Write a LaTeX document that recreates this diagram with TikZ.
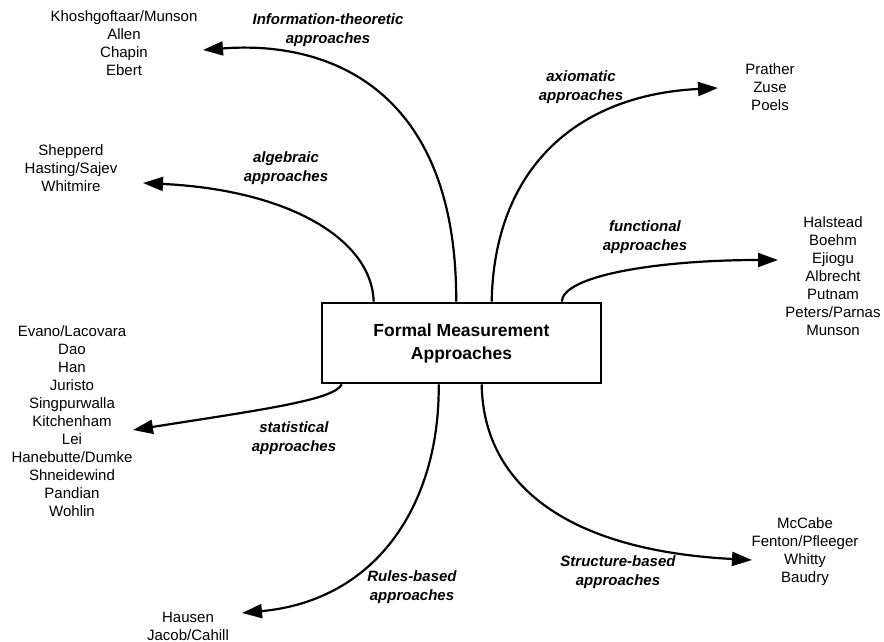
\documentclass[tikz,border=0pt]{standalone}
\usepackage{fontspec}
\setmainfont{Liberation Sans}
\usetikzlibrary{arrows.meta}
\begin{document}
\begin{tikzpicture}[x=1pt,y=-1pt,
  names/.style={align=center,inner sep=0pt,font=\fontsize{15}{18}\selectfont},
  kind/.style={align=center,inner sep=0pt,font=\fontsize{15}{18.5}\selectfont\bfseries\itshape},
  center box/.style={draw,line width=2.6pt,minimum width=279pt,minimum height=80pt,inner sep=0pt,
    align=center,font=\fontsize{17.5}{23}\selectfont\bfseries},
  link/.style={line width=2.2pt,-{Triangle[length=20pt,width=14pt]}}]
\useasboundingbox (0,0) rectangle (884,642);

% central box
\node[center box] (fma) at (461.5,343) {Formal Measurement\\Approaches};

% groups of authors
\node[names] (info)   at (124,43)  {Khoshgoftaar/Munson\\Allen\\Chapin\\Ebert};
\node[names] (alg)    at (71,168)  {Shepperd\\Hasting/Sajev\\Whitmire};
\node[names] (axio)   at (770,87)  {Prather\\Zuse\\Poels};
\node[names] (func)   at (833,276) {Halstead\\Boehm\\Ejiogu\\Albrecht\\Putnam\\Peters/Parnas\\Munson};
\node[names] (stat)   at (72,421)  {Evano/Lacovara\\Dao\\Han\\Juristo\\Singpurwalla\\Kitchenham\\Lei\\Hanebutte/Dumke\\Shneidewind\\Pandian\\Wohlin};
\node[names] (rules)  at (188,626) {Hausen\\Jacob/Cahill};
\node[names] (struct) at (805,552) {McCabe\\Fenton/Pfleeger\\Whitty\\Baudry};

% approach labels
\node[kind] (linfo)   at (328,30)  {Information-theoretic\\approaches};
\node[kind] (lalg)    at (286,168) {algebraic\\approaches};
\node[kind] (laxio)   at (581,87)  {axiomatic\\approaches};
\node[kind] (lfunc)   at (645,237) {functional\\approaches};
\node[kind] (lstat)   at (294,438) {statistical\\approaches};
\node[kind] (lrules)  at (412,587) {Rules-based\\approaches};
\node[kind] (lstruct) at (618,572) {Structure-based\\approaches};

% arrow tips next to each author group
\coordinate (tinfo)   at (203,50);
\coordinate (talg)    at (143,183);
\coordinate (taxio)   at (718,88);
\coordinate (tfunc)   at (778,260);
\coordinate (tstat)   at (133,430);
\coordinate (trules)  at (242,613);
\coordinate (tstruct) at (752,560);

% curved connectors from the box
\draw[link] ([xshift=135.5pt]fma.north west) .. controls (457,90) and (330,40) .. (tinfo);
\draw[link] ([xshift=53pt]fma.north west) .. controls (372,240) and (290,190) .. (talg);
\draw[link] ([xshift=171pt]fma.north west) .. controls (494,170) and (575,95) .. (taxio);
\draw[link] ([xshift=241pt]fma.north west) .. controls (563,275) and (660,260) .. (tfunc);
\draw[link] ([xshift=21pt]fma.south west) .. controls (335,400) and (260,410) .. (tstat);
\draw[link] ([xshift=118pt]fma.south west) .. controls (440,500) and (380,600) .. (trules);
\draw[link] ([xshift=161pt]fma.south west) .. controls (483,480) and (560,550) .. (tstruct);
\end{tikzpicture}
\end{document}
